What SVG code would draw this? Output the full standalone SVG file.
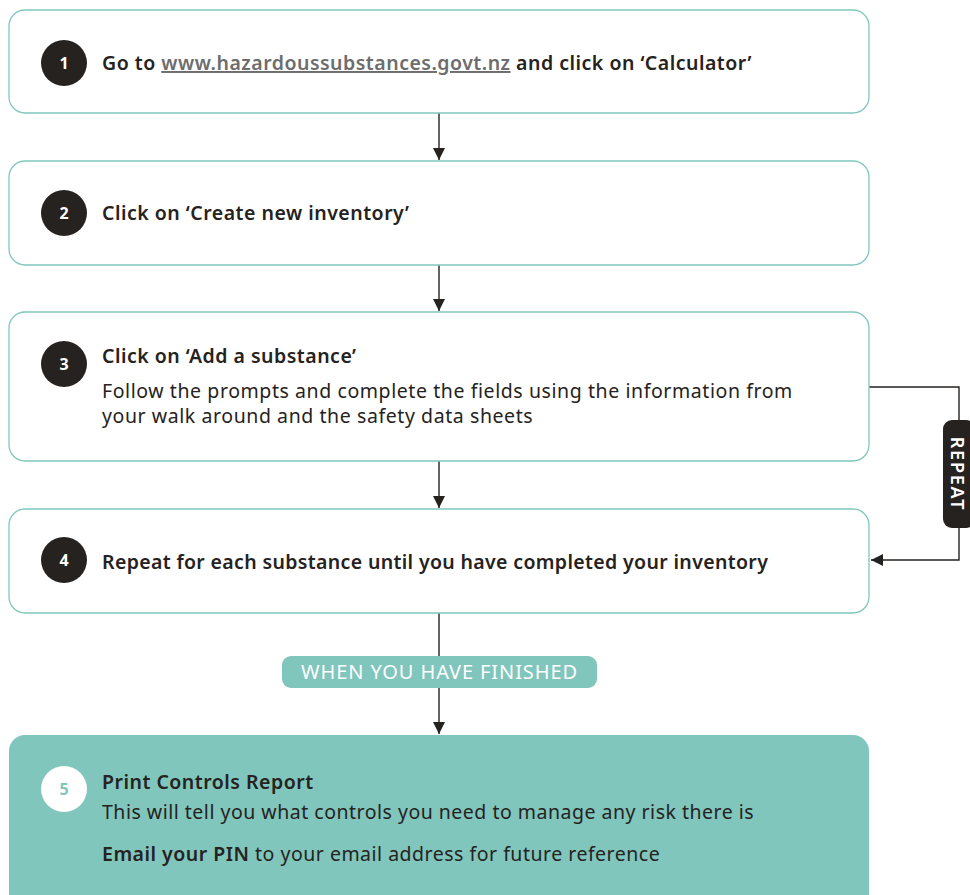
<svg xmlns="http://www.w3.org/2000/svg" width="970" height="895" viewBox="0 0 970 895">
<style>
.box{fill:#fff;stroke:#80c8bf;stroke-width:1.3}
.num{fill:#252220}
.numt{font-family:"Noto Sans","Liberation Sans",sans-serif;font-size:16px;font-weight:700;fill:#fff;text-anchor:middle}
.t{font-family:"Noto Sans","Liberation Sans",sans-serif;font-size:19.5px;letter-spacing:0.5px;fill:#252220}
.b{font-weight:600}
.link{fill:#6d6d6d}
.conn{stroke:#252220;stroke-width:1.4;fill:none}
</style>
<defs>
<marker id="ah" viewBox="0 0 10 10" refX="10" refY="5" markerWidth="12" markerHeight="12" markerUnits="userSpaceOnUse" orient="auto">
<path d="M0,0 L10,5 L0,10 z" fill="#252220"/>
</marker>
</defs>
<g id="connectors">
<line class="conn" x1="439" y1="113" x2="439" y2="160" marker-end="url(#ah)"/>
<line class="conn" x1="439" y1="265" x2="439" y2="311" marker-end="url(#ah)"/>
<line class="conn" x1="439" y1="461" x2="439" y2="508" marker-end="url(#ah)"/>
<line class="conn" x1="439" y1="613" x2="439" y2="656"/>
<line class="conn" x1="439" y1="688" x2="439" y2="734" marker-end="url(#ah)"/>
<polyline class="conn" points="869,387 959,387 959,420"/>
<polyline class="conn" points="959,528 959,560 871,560" marker-end="url(#ah)"/>
</g>
<g id="step1">
<rect class="box" x="9" y="10" width="860" height="103" rx="16"/>
<circle class="num" cx="64" cy="63" r="23"/>
<text class="numt" x="64" y="68.5">1</text>
<text class="t b" x="102" y="70">Go to <tspan class="link" text-decoration="underline">www.hazardoussubstances.govt.nz</tspan> and click on ‘Calculator’</text>
</g>
<g id="step2">
<rect class="box" x="9" y="161" width="860" height="104" rx="16"/>
<circle class="num" cx="64" cy="213" r="23"/>
<text class="numt" x="64" y="218.5">2</text>
<text class="t b" x="102" y="220">Click on ‘Create new inventory’</text>
</g>
<g id="step3">
<rect class="box" x="9" y="312" width="860" height="149" rx="16"/>
<circle class="num" cx="64" cy="364" r="23"/>
<text class="numt" x="64" y="369.5">3</text>
<text class="t b" x="102" y="363">Click on ‘Add a substance’</text>
<text class="t" x="102" y="398" style="letter-spacing:0.58px">Follow the prompts and complete the fields using the information from</text>
<text class="t" x="102" y="423" style="letter-spacing:0.58px">your walk around and the safety data sheets</text>
</g>
<g id="step4">
<rect class="box" x="9" y="509" width="860" height="104" rx="16"/>
<circle class="num" cx="64" cy="560" r="23"/>
<text class="numt" x="64" y="565.5">4</text>
<text class="t b" x="102" y="569" style="letter-spacing:0.35px">Repeat for each substance until you have completed your inventory</text>
</g>
<g id="repeat">
<rect x="943" y="420" width="32" height="108" rx="9" fill="#252220"/>
<text transform="translate(951,474) rotate(90)" font-family="Noto Sans,Liberation Sans,sans-serif" font-size="18" font-weight="600" letter-spacing="1.8" fill="#fff" text-anchor="middle">REPEAT</text>
</g>
<g id="finished">
<rect x="282" y="656" width="315" height="32" rx="9" fill="#80c6bd"/>
<text x="439.5" y="679" font-family="Noto Sans,Liberation Sans,sans-serif" font-size="20" letter-spacing="0.9" fill="#fff" text-anchor="middle">WHEN YOU HAVE FINISHED</text>
</g>
<g id="step5">
<rect x="9" y="735" width="860" height="175" rx="16" fill="#80c6bd"/>
<circle cx="64" cy="789" r="23" fill="#fff"/>
<text class="numt" x="64" y="794.5" style="fill:#80c6bd">5</text>
<text class="t b" x="102" y="789">Print Controls Report</text>
<text class="t" x="102" y="819">This will tell you what controls you need to manage any risk there is</text>
<text class="t" x="102" y="861"><tspan class="b">Email your PIN</tspan> to your email address for future reference</text>
</g>
</svg>
